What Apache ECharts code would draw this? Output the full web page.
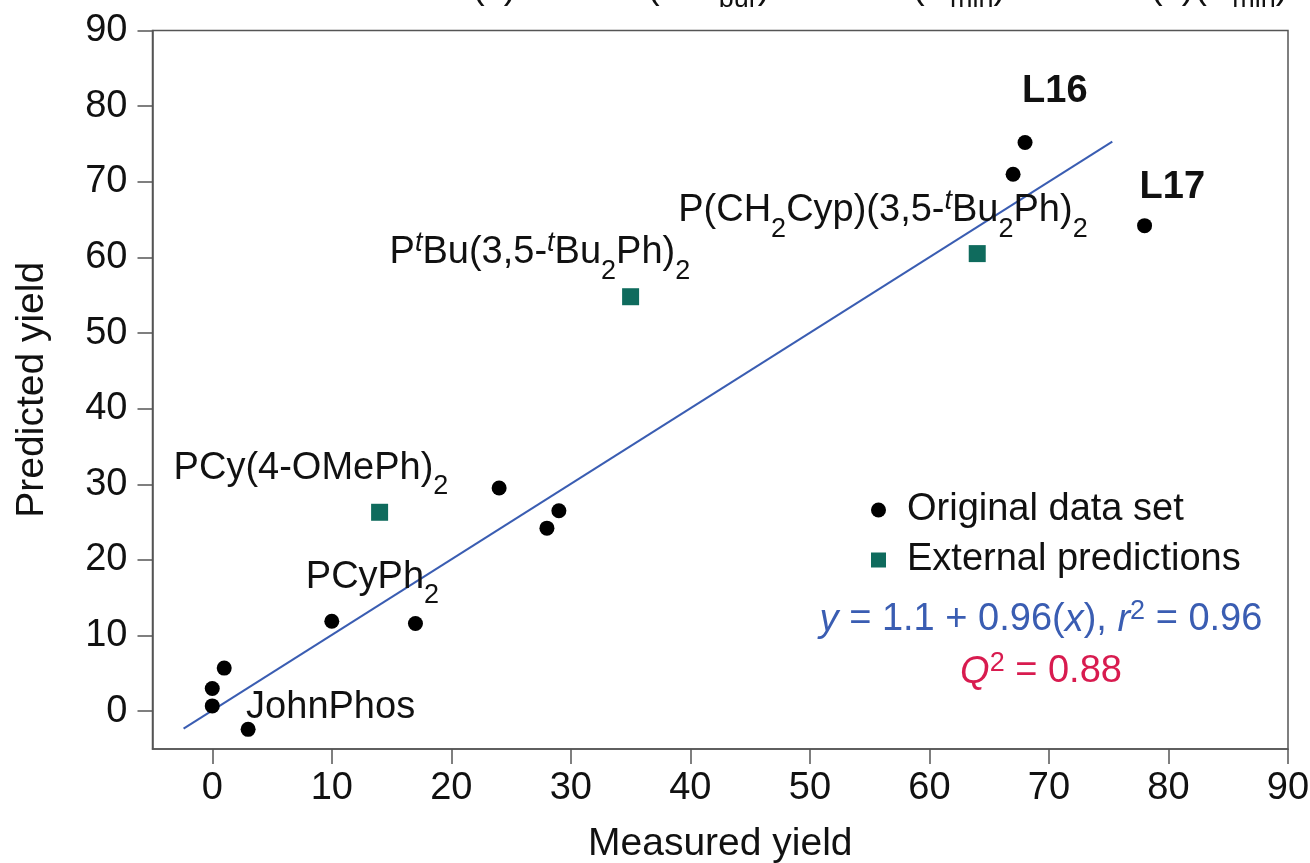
<!DOCTYPE html>
<html>
<head>
<meta charset="utf-8">
<script src="https://cdn.jsdelivr.net/npm/echarts@6/dist/echarts.min.js"></script>
<style>
  html, body { margin: 0; padding: 0; background: #fff; }
  #chart { width: 1310px; height: 863px; }
</style>
</head>
<body>
<div id="chart"></div>
<script>
// original data set (measured, predicted)
var origNames = ['a', 'b', 'c', 'JohnPhos', 'PCyPh2', 'f', 'g', 'h', 'i', 'j', 'L16', 'L17'];
var origX = [0, 0, 1, 3, 10, 17, 24, 28, 29, 67, 68, 78];
var origY = [0.7, 3.0, 5.7, -2.4, 11.9, 11.6, 29.5, 24.2, 26.5, 71.0, 75.2, 64.2];

// external predictions
var extNames = ['PCy(4-OMePh)2', 'PtBu(3,5-tBu2Ph)2', 'P(CH2Cyp)(3,5-tBu2Ph)2'];
var extX = [14, 35, 64];
var extY = [26.3, 54.8, 60.5];

// fitted line ends as drawn
var fitX = [-2.4, 75.3];
var fitY = [-2.3, 75.3];

var xTicks = [0, 10, 20, 30, 40, 50, 60, 70, 80, 90];
var yTicks = [0, 10, 20, 30, 40, 50, 60, 70, 80, 90];

var FONT = '"Liberation Sans", Arial, sans-serif';
var TEXT = '#111';
var BLUE = '#3a5db2';
var TEAL = '#0f6b5d';
var FS = 38;

// tall main line so sub/sup tokens can sit low/high inside it
var rich = {
  n: { fontSize: FS, lineHeight: 64, fontFamily: FONT, color: TEXT },
  b: { fontSize: FS, lineHeight: 64, fontFamily: FONT, color: TEXT, fontWeight: 'bold' },
  sub: { fontSize: 27, fontFamily: FONT, color: TEXT, verticalAlign: 'bottom' },
  sup: { fontSize: 27, fontFamily: FONT, color: TEXT, verticalAlign: 'top', fontStyle: 'italic', padding: [9, 0, 0, 0] }
};
// top strip: smaller subscript drop
var richTop = {
  n: { fontSize: FS, lineHeight: 50, fontFamily: FONT, color: TEXT },
  sub: { fontSize: 27, fontFamily: FONT, color: TEXT, verticalAlign: 'bottom' }
};

// rich label text and where it sits relative to its mark
var labelText = {
  'JohnPhos': '{n|JohnPhos}',
  'PCyPh2': '{n|PCyPh}{sub|2}',
  'L16': '{b|L16}',
  'L17': '{b|L17}',
  'PCy(4-OMePh)2': '{n|PCy(4-OMePh)}{sub|2}',
  'PtBu(3,5-tBu2Ph)2': '{n|P}{sup|t}{n|Bu(3,5-}{sup|t}{n|Bu}{sub|2}{n|Ph)}{sub|2}',
  'P(CH2Cyp)(3,5-tBu2Ph)2': '{n|P(CH}{sub|2}{n|Cyp)(3,5-}{sup|t}{n|Bu}{sub|2}{n|Ph)}{sub|2}'
};
var labelOffset = {
  'JohnPhos': [-2, -22],
  'PCyPh2': [-26, -44],
  'L16': [-3, -51],
  'L17': [-5, -38],
  'PCy(4-OMePh)2': [-206, -44],
  'PtBu(3,5-tBu2Ph)2': [-241, -44],
  'P(CH2Cyp)(3,5-tBu2Ph)2': [-299, -43]
};

function buildData(names, xs, ys) {
  return xs.map(function (x, i) {
    var item = { value: [x, ys[i]] };
    var nm = names[i];
    if (labelText[nm]) {
      item.label = {
        show: true,
        position: 'inside',
        align: 'left',
        verticalAlign: 'middle',
        offset: labelOffset[nm],
        formatter: labelText[nm],
        rich: rich
      };
    }
    return item;
  });
}

var chart = echarts.init(document.getElementById('chart'));

var axisCommon = {
  type: 'value', min: -5, max: 90, interval: 5,
  nameLocation: 'middle',
  nameTextStyle: { fontSize: 39, fontFamily: FONT, color: TEXT },
  axisLine: { show: true, onZero: false, lineStyle: { color: '#555', width: 1.5 } },
  splitLine: { show: false }
};

function topText(x, text) {
  return {
    type: 'text', x: x, y: -12,
    style: { text: text, fill: TEXT, fontFamily: FONT, align: 'left', verticalAlign: 'middle', rich: richTop }
  };
}

var option = {
  backgroundColor: '#fff',
  animation: false,
  grid: {
    left: 152.5, right: 22, top: 30.5, bottom: 114,
    outerBoundsMode: 'none',
    containLabel: false,
    show: true, borderColor: '#555', borderWidth: 1.5
  },
  legend: {
    orient: 'vertical',
    left: 866, top: 486,
    itemWidth: 15, itemHeight: 15, itemGap: 12,
    textStyle: { fontSize: FS, fontFamily: FONT, color: TEXT, padding: [0, 0, 0, 16] },
    data: [
      { name: 'Original data set', icon: 'circle' },
      { name: 'External predictions', icon: 'rect' }
    ]
  },
  xAxis: Object.assign({}, axisCommon, {
    name: 'Measured yield', nameGap: 76,
    axisTick: { show: true, inside: false, length: 15, lineStyle: { color: '#555', width: 1.5 }, customValues: xTicks },
    axisLabel: { fontSize: FS, fontFamily: FONT, color: TEXT, margin: 21, customValues: xTicks }
  }),
  yAxis: Object.assign({}, axisCommon, {
    name: 'Predicted yield', nameGap: 101,
    axisTick: { show: true, inside: false, length: 15, lineStyle: { color: '#555', width: 1.5 }, customValues: yTicks },
    axisLabel: { fontSize: FS, fontFamily: FONT, color: TEXT, margin: 25, customValues: yTicks }
  }),
  series: [
    {
      name: 'fit',
      type: 'line',
      data: fitX.map(function (x, i) { return [x, fitY[i]]; }),
      showSymbol: false,
      symbol: 'none',
      lineStyle: { color: BLUE, width: 2 },
      z: 1
    },
    {
      name: 'Original data set',
      type: 'scatter',
      symbol: 'circle',
      symbolSize: 15,
      itemStyle: { color: '#000', opacity: 1 },
      data: buildData(origNames, origX, origY),
      z: 3
    },
    {
      name: 'External predictions',
      type: 'scatter',
      symbol: 'rect',
      symbolSize: 17,
      itemStyle: { color: TEAL, opacity: 1 },
      data: buildData(extNames, extX, extY),
      z: 3
    }
  ],
  graphic: [
    {
      type: 'text', x: 1041, y: 620,
      style: {
        text: '{i|y} = 1.1 + 0.96({i|x}), {i|r}{s|2} = 0.96',
        fill: BLUE, fontSize: FS, lineHeight: 44, fontFamily: FONT,
        align: 'center', verticalAlign: 'middle',
        rich: {
          i: { fontStyle: 'italic', fontSize: FS, lineHeight: 44, fontFamily: FONT, color: BLUE },
          s: { fontSize: 27, fontFamily: FONT, color: BLUE, verticalAlign: 'top' }
        }
      }
    },
    {
      type: 'text', x: 1041, y: 672,
      style: {
        text: '{i|Q}{s|2} = 0.88',
        fill: '#d81b4f', fontSize: FS, lineHeight: 44, fontFamily: FONT,
        align: 'center', verticalAlign: 'middle',
        rich: {
          i: { fontStyle: 'italic', fontSize: FS, lineHeight: 44, fontFamily: FONT, color: '#d81b4f' },
          s: { fontSize: 27, fontFamily: FONT, color: '#d81b4f', verticalAlign: 'top' }
        }
      }
    },
    // clipped text from the panel above
    topText(472, '{n|(x)}'),
    topText(647, '{n|(%V}{sub|bur}{n|)}'),
    topText(912, '{n|(B}{sub|min}{n|)}'),
    topText(1150, '{n|(x)(B}{sub|min}{n|)}')
  ]
};

chart.setOption(option);
</script>
</body>
</html>
